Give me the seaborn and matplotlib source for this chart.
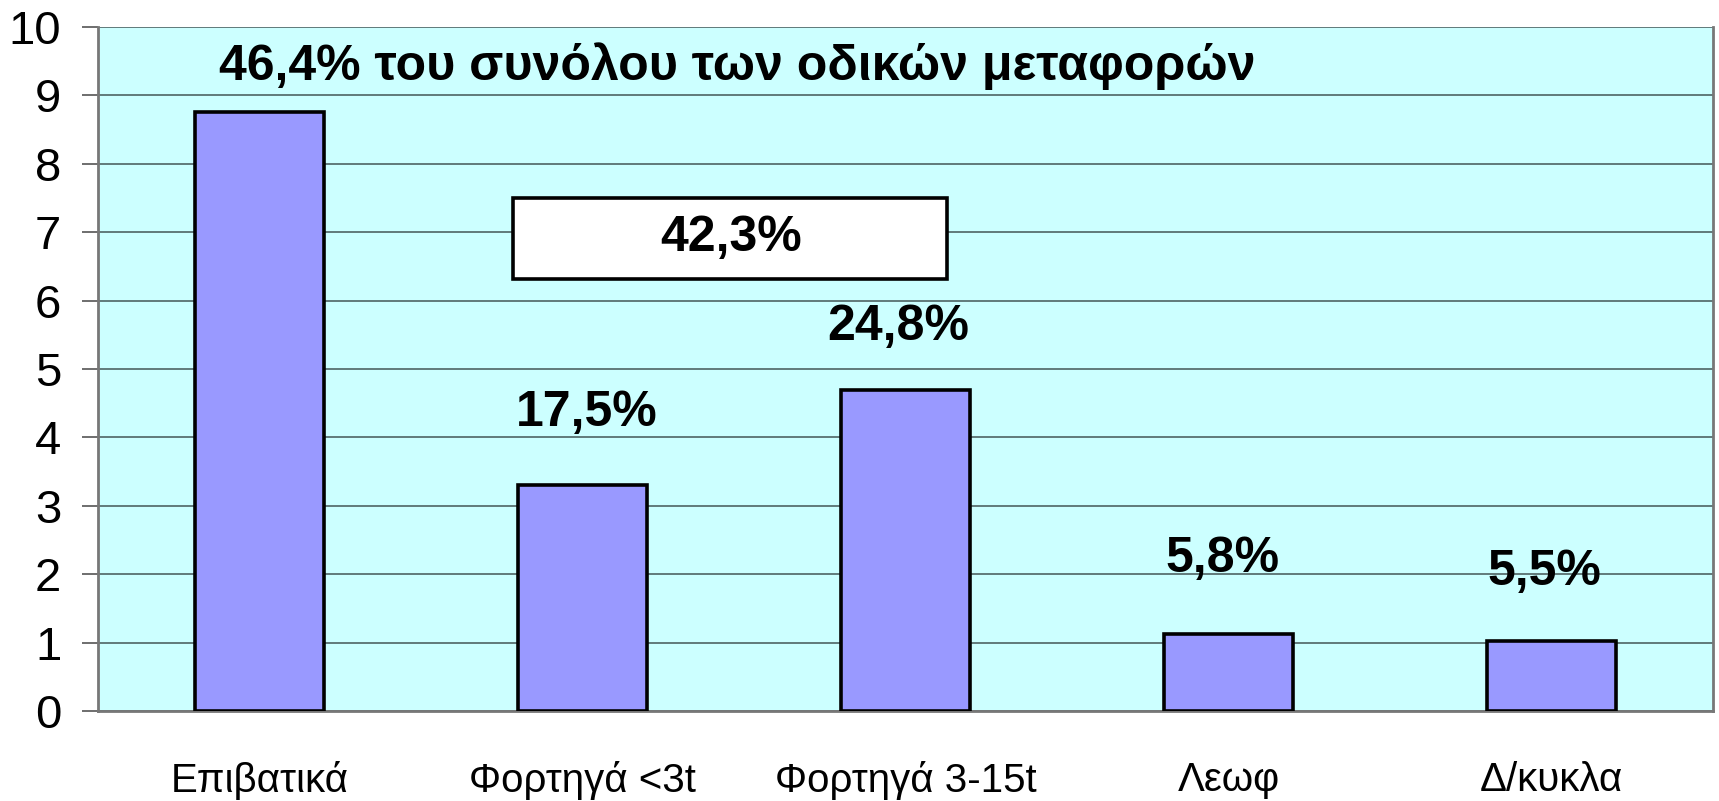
import matplotlib
matplotlib.use("Agg")
import matplotlib.pyplot as plt
import seaborn as sns
import pandas as pd
from matplotlib.patches import Rectangle

categories = ["Επιβατικά", "Φορτηγά <3t", "Φορτηγά 3-15t", "Λεωφ", "Δ/κυκλα"]
values = [8.76, 3.30, 4.69, 1.12, 1.02]
bar_labels = ["", "17,5%", "24,8%", "5,8%", "5,5%"]
title_label = "46,4% του συνόλου των οδικών μεταφορών"
group_label = "42,3%"
yticks = list(range(0, 11))

sns.set_theme(style="white")
plt.rcParams["font.family"] = ["Liberation Sans", "DejaVu Sans"]
plt.rcParams["text.color"] = "black"
plt.rcParams["xtick.color"] = "black"
plt.rcParams["ytick.color"] = "black"

fig = plt.figure(figsize=(17.19, 8.01), dpi=100)
ax = fig.add_axes([0.057, 0.1124, 0.9395, 0.8539])
ax.set_facecolor("#CCFFFF")

df = pd.DataFrame({"cat": categories, "val": values})
sns.barplot(data=df, x="cat", y="val", color="#9999FF", saturation=1,
            edgecolor="black", linewidth=2.6, width=0.4, ax=ax, zorder=3)

ax.set_xlim(-0.5, 4.5)
ax.set_ylim(0, 10)
ax.set_yticks(yticks)
ax.set_yticklabels([str(t) for t in yticks], fontsize=34, color="black")
ax.grid(axis="y", color="#4f6464", linewidth=1.2, zorder=1)
ax.grid(axis="x", visible=False)
ax.set_xlabel("")
ax.set_ylabel("")

ax.set_xticks(range(len(categories)))
ax.set_xticklabels(categories, fontsize=29, color="black")
ax.tick_params(axis="x", which="major", length=0, pad=36)
ax.set_xticks([i + 0.5 for i in range(-1, len(categories))], minor=True)
ax.tick_params(axis="x", which="minor", length=9, width=1.2, color="#555555", direction="out")
ax.tick_params(axis="y", length=11.5, width=1.2, color="#555555", direction="out", pad=15, left=True)

ax.spines["top"].set_visible(False)
for s in ["left", "bottom", "right"]:
    ax.spines[s].set_visible(True)
    ax.spines[s].set_color("#777777")
    ax.spines[s].set_linewidth(2)

# annotations
ax.text(1.478, 9.43, title_label, ha="center", va="center", fontsize=36, fontweight="bold", zorder=5)
ax.add_patch(Rectangle((0.785, 6.32), 1.345, 1.18, facecolor="white", edgecolor="black", linewidth=2.6, zorder=4))
ax.text(1.46, 6.92, group_label, ha="center", va="center", fontsize=36, fontweight="bold", zorder=5)
label_pos = [None, (1.014, 4.36), (1.977, 5.61), (2.98, 2.22), (3.977, 2.03)]
for lab, pos in zip(bar_labels, label_pos):
    if pos is None:
        continue
    ax.text(pos[0], pos[1], lab, ha="center", va="center", fontsize=36, fontweight="bold", zorder=5)

fig.savefig("out.png", dpi=100)
